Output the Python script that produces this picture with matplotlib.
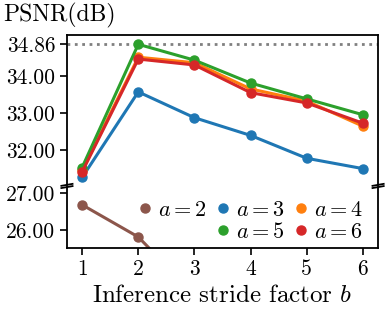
import numpy as np
import matplotlib
matplotlib.use("Agg")
import matplotlib.pyplot as plt
from matplotlib.lines import Line2D

plt.rcParams['font.family'] = 'cmr10'
plt.rcParams['mathtext.fontset'] = 'cm'
plt.rcParams['axes.formatter.use_mathtext'] = True

# inference stride factor b
b = [1, 2, 3, 4, 5, 6]
# PSNR for each training stride a
psnr_a2 = [26.68, 25.81, 24.25, 23.6, 23.1, 22.7]
psnr_a3 = [31.25, 33.57, 32.87, 32.39, 31.77, 31.49]
psnr_a4 = [31.44, 34.51, 34.36, 33.65, 33.32, 32.64]
psnr_a5 = [31.52, 34.86, 34.43, 33.81, 33.38, 32.95]
psnr_a6 = [31.40, 34.46, 34.30, 33.55, 33.27, 32.72]
best = 34.86

series = [("$a=2$", psnr_a2, "tab:brown"),
          ("$a=3$", psnr_a3, "tab:blue"),
          ("$a=4$", psnr_a4, "tab:orange"),
          ("$a=5$", psnr_a5, "tab:green"),
          ("$a=6$", psnr_a6, "tab:red")]

fig = plt.figure(figsize=(3.87, 3.16), dpi=100)
ax1 = fig.add_axes([0.173, 0.415, 0.804, 0.474])
ax2 = fig.add_axes([0.173, 0.215, 0.804, 0.193])

for ax in (ax1, ax2):
    ax.axhline(best, color="gray", ls=":", lw=2, zorder=1)
    for lab, y, c in series:
        ax.plot(b, y, "-o", color=c, lw=2.2, ms=6.5, label=lab)
    ax.set_xlim(0.73, 6.27)
    for s in ax.spines.values():
        s.set_linewidth(1.3)
    ax.tick_params(labelsize=15.5, width=1.2, length=5)

ax1.set_ylim(31.05, 35.11)
ax2.set_ylim(25.51, 27.16)
ax1.spines['bottom'].set_visible(False)
ax2.spines['top'].set_visible(False)
ax1.tick_params(bottom=False, labelbottom=False)
ax1.set_yticks([32, 33, 34, best])
ax1.set_yticklabels(["32.00", "33.00", "34.00", "34.86"])
ax2.set_yticks([26, 27])
ax2.set_yticklabels(["26.00", "27.00"])
ax2.set_xticks(b)
ax2.set_xticklabels([str(v) for v in b])
ax2.set_xlabel("Inference stride factor $b$", fontsize=18, labelpad=4)

# break marks
d = 0.018
kw = dict(color="k", clip_on=False, lw=1.3)
r = 0.474 / 0.193
ax1.plot((-d, d), (-d / r * 0.9, d / r * 0.9), transform=ax1.transAxes, **kw)
ax1.plot((1 - d, 1 + d), (-d / r * 0.9, d / r * 0.9), transform=ax1.transAxes, **kw)
ax2.plot((-d, d), (1 - d * 0.9, 1 + d * 0.9), transform=ax2.transAxes, **kw)
ax2.plot((1 - d, 1 + d), (1 - d * 0.9, 1 + d * 0.9), transform=ax2.transAxes, **kw)

handles = [Line2D([], [], marker="o", ls="none", color=c, ms=6.5) for _, _, c in series]
labels = [lab for lab, _, _ in series]
blank = Line2D([], [], ls="none")
order_h = [handles[0], blank, handles[1], handles[3], handles[2], handles[4]]
order_l = [labels[0], "", labels[1], labels[3], labels[2], labels[4]]
ax2.legend(order_h, order_l, ncol=3, loc="lower right", bbox_to_anchor=(0.995, -0.12),
           frameon=False, fontsize=16, handlelength=0.6, handletextpad=0.3,
           columnspacing=0.4, labelspacing=0.1, borderpad=0.1)

fig.text(0.008, 0.99, "PSNR(dB)", fontsize=17, ha="left", va="top")

fig.savefig("out.png", dpi=100)
